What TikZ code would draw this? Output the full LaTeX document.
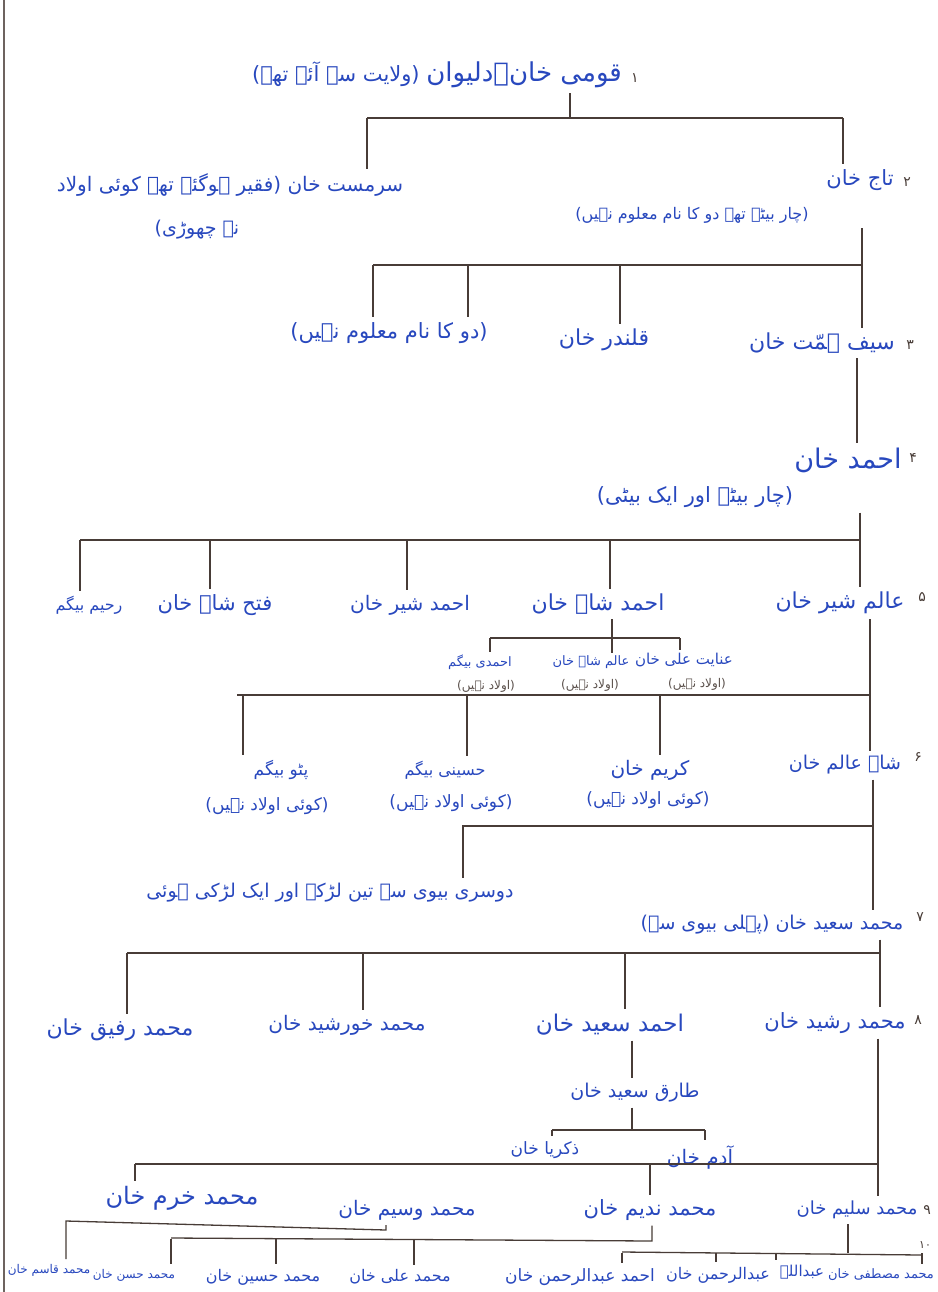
\documentclass[tikz,border=0pt]{standalone}
\usepackage{fontspec}
\newfontfamily\urdu[Script=Arabic]{DejaVu Sans}
\TeXXeTstate=1
\usetikzlibrary{calc}

\definecolor{pen}{RGB}{40,72,190}
\definecolor{ink}{RGB}{72,60,55}
\newcommand{\ur}[1]{\beginR #1\endR}

\tikzset{
  fs/.style={font=\urdu\fontsize{#1}{#1}\selectfont},
  nm/.style={text=pen, fs=20, inner sep=0pt, outer sep=5pt},
  note/.style={nm, fs=17},
  kid/.style={nm, fs=13, outer sep=3pt},
  kidnote/.style={kid, text=ink!90, fs=12},
  num/.style={text=ink, fs=14, inner sep=0pt},
  line/.style={draw=ink, line width=1.3pt},
  spine/.style={draw=ink, line width=2.2pt},
}

\begin{document}
\begin{tikzpicture}[x=1pt,y=-1pt]
  \fill[white] (0,0) rectangle (937,1292);
  \useasboundingbox (0,0) rectangle (937,1292);
  \draw[ink!80, line width=2pt] (4,0) -- (4,1292);

  % generation 1 and 2
  \node[nm,fs=21] (qaumi) at (437,75) {\ur{{\fontsize{26}{28}\selectfont قومی خان۔دلیوان} (ولایت سے آئے تھے)}};
  \node[num] (n1) at (635,78) {۱};
  \node[nm] (sarmast) at (230,185) {\ur{سرمست خان (فقیر ہوگئے تھے کوئی اولاد}};
  \node[nm,fs=19] (sarmast2) at (197,230) {\ur{نہ چھوڑی)}};
  \node[nm,fs=21] (taj) at (860,180) {\ur{تاج خان}};
  \node[num] (n2) at (907,182) {۲};
  \node[nm,fs=16] (taj2) at (692,215) {\ur{(چار بیٹے تھے دو کا نام معلوم نہیں)}};

  % generation 3
  \node[nm,fs=21] (dokanam) at (389,333) {\ur{(دو کا نام معلوم نہیں)}};
  \node[nm,fs=22] (qalandar) at (604,340) {\ur{قلندر خان}};
  \node[nm,fs=22] (saif) at (822,343) {\ur{سیف ہمّت خان}};
  \node[num] (n3) at (910,345) {۳};

  % generation 4
  \node[nm,fs=27] (ahmad) at (848,460) {\ur{احمد خان}};
  \node[num] (n4) at (913,458) {۴};
  \node[nm,fs=21] (ahmad2) at (695,497) {\ur{(چار بیٹے اور ایک بیٹی)}};

  % generation 5
  \node[nm,fs=22] (alamsher) at (840,603) {\ur{عالم شیر خان}};
  \node[num] (n5) at (922,597) {۵};
  \node[nm,fs=22] (ahmadshah) at (598,604) {\ur{احمد شاہ خان}};
  \node[nm] (ahmadsher) at (410,605) {\ur{احمد شیر خان}};
  \node[nm,fs=21] (fateh) at (215,605) {\ur{فتح شاہ خان}};
  \node[nm,fs=16] (rahim) at (89,605) {\ur{رحیم بیگم}};

  \node[kid] (ahmadi) at (480,662) {\ur{احمدی بیگم}};
  \node[kidnote] (ahmadi2) at (486,686) {\ur{(اولاد نہیں)}};
  \node[kid] (alamshah) at (591,662) {\ur{عالم شاہ خان}};
  \node[kidnote] (alamshah2) at (590,685) {\ur{(اولاد نہیں)}};
  \node[kid,fs=15] (inayat) at (684,660) {\ur{عنایت علی خان}};
  \node[kidnote] (inayat2) at (697,684) {\ur{(اولاد نہیں)}};

  % generation 6
  \node[nm,fs=19] (shahalam) at (845,765) {\ur{شاہ عالم خان}};
  \node[num] (n6) at (918,757) {۶};
  \node[nm] (karim) at (650,770) {\ur{کریم خان}};
  \node[note] (karim2) at (648,800) {\ur{(کوئی اولاد نہیں)}};
  \node[nm,fs=16] (husaini) at (445,770) {\ur{حسینی بیگم}};
  \node[note] (husaini2) at (451,803) {\ur{(کوئی اولاد نہیں)}};
  \node[nm,fs=17] (pattu) at (281,770) {\ur{پٹو بیگم}};
  \node[note] (pattu2) at (267,806) {\ur{(کوئی اولاد نہیں)}};

  % generation 7
  \node[nm,fs=19] (dusri) at (330,893) {\ur{دوسری بیوی سے تین لڑکے اور ایک لڑکی ہوئی}};
  \node[nm,fs=19] (msaeed) at (772,925) {\ur{محمد سعید خان (پہلی بیوی سے)}};
  \node[num] (n7) at (920,917) {۷};

  % generation 8
  \node[nm,fs=21] (rashid) at (835,1023) {\ur{محمد رشید خان}};
  \node[num] (n8) at (918,1020) {۸};
  \node[nm,fs=23] (ahsaeed) at (610,1025) {\ur{احمد سعید خان}};
  \node[nm] (khurshid) at (347,1025) {\ur{محمد خورشید خان}};
  \node[nm,fs=22] (rafiq) at (120,1030) {\ur{محمد رفیق خان}};
  \node[nm,fs=19] (tariq) at (635,1093) {\ur{طارق سعید خان}};
  \node[nm,fs=17] (zakariya) at (545,1150) {\ur{ذکریا خان}};
  \node[nm] (adam) at (700,1157) {\ur{آدم خان}};

  % generation 9
  \node[nm,fs=18] (saleem) at (857,1210) {\ur{محمد سلیم خان}};
  \node[num] (n9) at (927,1210) {۹};
  \node[nm,fs=21] (nadeem) at (650,1210) {\ur{محمد ندیم خان}};
  \node[nm] (waseem) at (407,1210) {\ur{محمد وسیم خان}};
  \node[nm,fs=24] (khurram) at (182,1198) {\ur{محمد خرم خان}};

  % generation 10
  \node[num,fs=11] (n10) at (925,1245) {۱۰};
  \node[nm,fs=13] (mustafa) at (881,1275) {\ur{محمد مصطفی خان}};
  \node[nm,fs=15] (abdullah) at (802,1272) {\ur{عبداللہ}};
  \node[nm,fs=16] (abdulrahman) at (718,1275) {\ur{عبدالرحمن خان}};
  \node[nm,fs=17] (ahmadabd) at (580,1277) {\ur{احمد عبدالرحمن خان}};
  \node[nm,fs=16] (ali) at (400,1277) {\ur{محمد علی خان}};
  \node[nm,fs=16] (husain) at (263,1277) {\ur{محمد حسین خان}};
  \node[nm,fs=12] (hasan) at (134,1275) {\ur{محمد حسن خان}};
  \node[nm,fs=12] (qasim) at (49,1270) {\ur{محمد قاسم خان}};

  % connectors
  \coordinate (b1) at (570,118);
  \draw[line] (b1 |- qaumi.south) -- (b1);
  \draw[line] (367,118) coordinate (b1l) -- (843,118) coordinate (b1r);
  \draw[line] (b1l) -- (b1l |- sarmast.north);
  \draw[line] (b1r) -- (b1r |- taj.north);

  \coordinate (b2) at (862,265);
  \draw[spine] (b2 |- taj2.south) -- (b2 |- saif.north);
  \draw[line] (b2) -- (373,265);
  \foreach \x/\n in {373/dokanam,468/dokanam,620/qalandar}
    \draw[line] (\x,265) coordinate (d) -- (d |- \n.north);

  \coordinate (b3) at (857,400);
  \draw[line] (b3 |- saif.south) -- (b3 |- ahmad.north);

  \coordinate (b4) at (860,540);
  \draw[line] (b4 |- ahmad2.south) -- (b4 |- alamsher.north);
  \draw[line] (b4) -- (80,540);
  \foreach \x/\n in {80/rahim,210/fateh,407/ahmadsher,610/ahmadshah}
    \draw[line] (\x,540) coordinate (d) -- (d |- \n.north);

  \coordinate (b5) at (612,638);
  \draw[line] (b5 |- ahmadshah.south) -- (b5 |- alamshah.north);
  \draw[line] (490,638) -- (680,638);
  \foreach \x/\n in {490/ahmadi,680/inayat}
    \draw[line] (\x,638) coordinate (d) -- (d |- \n.north);

  \coordinate (b6) at (870,695);
  \draw[line] (b6 |- alamsher.south) -- (b6 |- shahalam.north);
  \draw[line] (b6) -- (237,695);
  \foreach \x/\n in {243/pattu,467/husaini,660/karim}
    \draw[line] (\x,695) coordinate (d) -- (d |- \n.north);

  \coordinate (b7) at (873,826);
  \draw[line] (b7 |- shahalam.south) -- (b7 |- msaeed.north);
  \draw[line] (b7) -- (463,826) coordinate (d) -- (d |- dusri.north);

  \coordinate (b8) at (880,953);
  \draw[line] (b8 |- msaeed.south) -- (b8 |- rashid.north);
  \draw[line] (b8) -- (127,953);
  \foreach \x/\n in {127/rafiq,363/khurshid,625/ahsaeed}
    \draw[line] (\x,953) coordinate (d) -- (d |- \n.north);

  \coordinate (b9) at (632,1130);
  \draw[line] (b9 |- ahsaeed.south) -- (b9 |- tariq.north);
  \draw[line] (b9 |- tariq.south) -- (b9);
  \draw[line] (552,1130) -- (705,1130);
  \foreach \x/\n in {552/zakariya,705/adam}
    \draw[line] (\x,1130) coordinate (d) -- (d |- \n.north);

  \coordinate (b10) at (878,1164);
  \draw[line] (b10 |- rashid.south) -- (b10 |- saleem.north);
  \draw[line] (b10) -- (135,1164);
  \foreach \x/\n in {135/khurram,650/nadeem}
    \draw[line] (\x,1164) coordinate (d) -- (d |- \n.north);

  % last generation
  \coordinate (c1) at (386,1230);
  \draw[line] (c1 |- waseem.south) -- (c1) -- (66,1221) coordinate (d) -- (d |- qasim.north);
  \coordinate (c2) at (652,1241);
  \draw[line] (c2 |- nadeem.south) -- (c2) -- (171,1238);
  \foreach \x/\n in {171/hasan,276/husain,414/ali}
    \draw[line] (\x,1239) coordinate (d) -- (d |- \n.north);
  \coordinate (c3) at (848,1253);
  \draw[line] (c3 |- saleem.south) -- (c3);
  \draw[line] (622,1252) -- (922,1255);
  \foreach \x/\n in {622/ahmadabd,716/abdulrahman,776/abdullah,922/mustafa}
    \draw[line] (\x,1253) coordinate (d) -- (d |- \n.north);
\end{tikzpicture}
\end{document}
